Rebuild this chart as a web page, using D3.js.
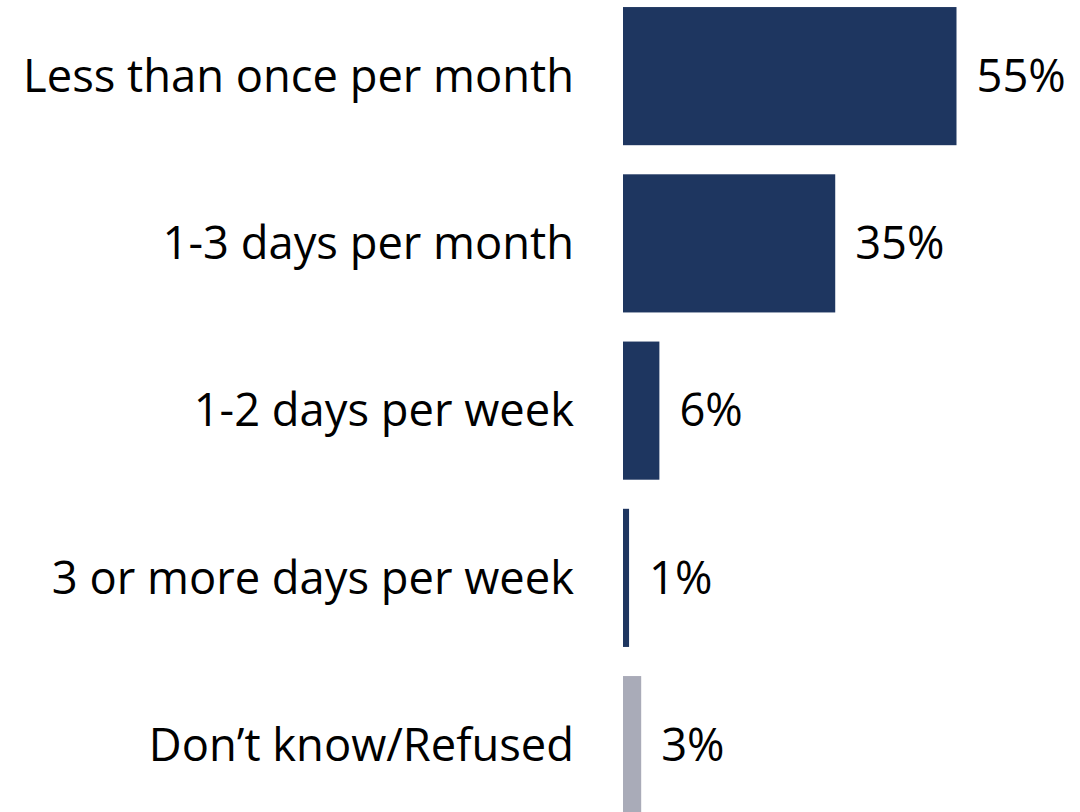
<!DOCTYPE html>
<html>
<head>
<meta charset="utf-8">
<script src="https://d3js.org/d3.v7.min.js"></script>
<style>
  body { margin: 0; background: #fff; }
  text { font-family: "Open Sans", Lato, sans-serif; fill: #000; }
</style>
</head>
<body>
<svg width="1080" height="812"></svg>
<script>
var categories = ["Less than once per month", "1-3 days per month", "1-2 days per week", "3 or more days per week", "Don\u2019t know/Refused"];
var values = [55, 35, 6, 1, 3];
var colors = ["#1E3660", "#1E3660", "#1E3660", "#1E3660", "#A9ABB8"];

var svg = d3.select("svg");

var x = d3.scaleLinear().domain([0, 55]).range([623, 956.5]);
var y = d3.scaleBand()
    .domain(categories)
    .range([-7.5, 828.75])
    .paddingInner(0.174)
    .paddingOuter(0.087);

var data = categories.map(function (c, i) { return {cat: c, val: values[i], col: colors[i]}; });

svg.selectAll("rect.bar")
    .data(data)
    .enter()
    .append("rect")
    .attr("class", "bar")
    .attr("x", x(0))
    .attr("y", function (d) { return y(d.cat); })
    .attr("width", function (d) { return x(d.val) - x(0); })
    .attr("height", y.bandwidth())
    .attr("fill", function (d) { return d.col; });

// category labels
var cats = svg.selectAll("text.cat")
    .data(data)
    .enter()
    .append("text")
    .attr("class", "cat")
    .attr("x", 574)
    .attr("y", function (d) { return y(d.cat) + y.bandwidth() / 2; })
    .attr("dy", "0.35em")
    .attr("text-anchor", "end")
    .style("font-size", "40px")
    .text(function (d) { return d.cat; });

// size the font so the longest label spans about as wide as in the original
var w = cats.node().getComputedTextLength();
var fs = 40 * 551 / w;
cats.style("font-size", fs + "px");

// value labels
svg.selectAll("text.val")
    .data(data)
    .enter()
    .append("text")
    .attr("class", "val")
    .attr("x", function (d) { return x(d.val) + 20; })
    .attr("y", function (d) { return y(d.cat) + y.bandwidth() / 2; })
    .attr("dy", "0.35em")
    .style("font-size", fs + "px")
    .text(function (d) { return d.val + "%"; });
</script>
</body>
</html>
